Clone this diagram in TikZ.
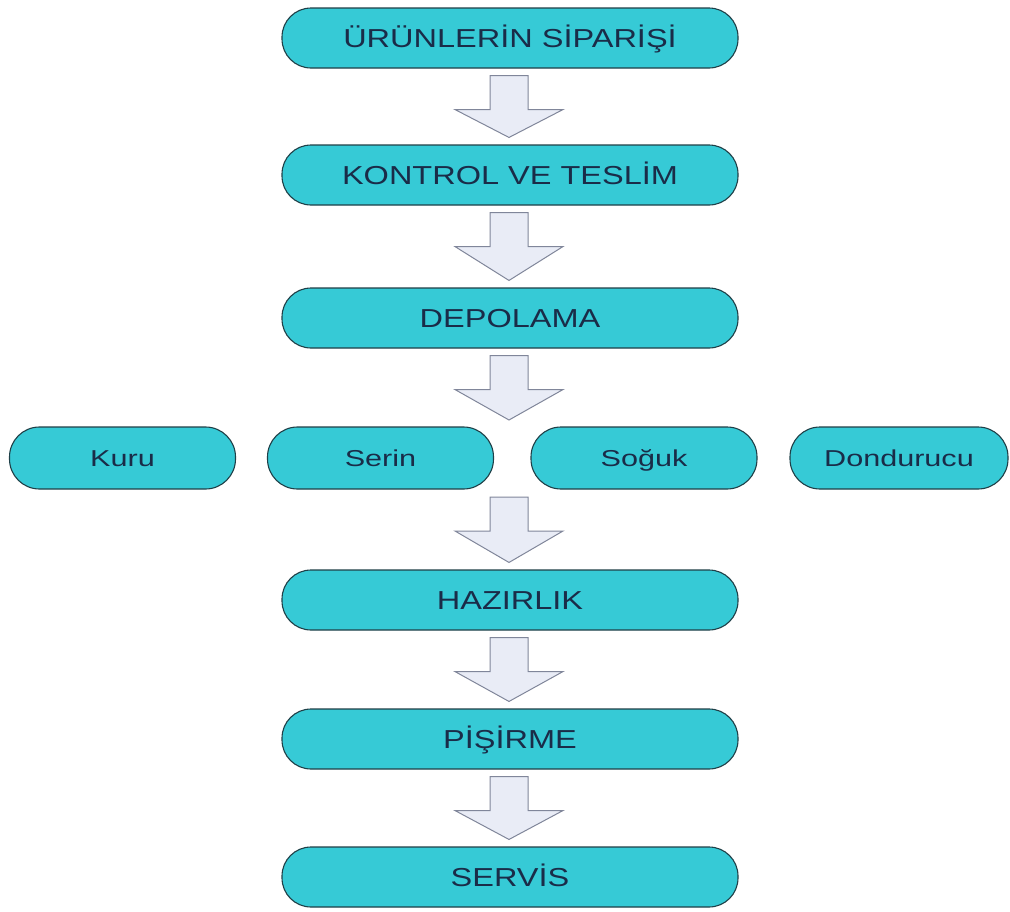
\documentclass[tikz,border=0pt]{standalone}
\usepackage{fontspec}
\setmainfont{Liberation Sans}
\newfontfamily\widefont[FakeStretch=1.25]{Liberation Sans}
\newfontfamily\widerfont[FakeStretch=1.33]{Liberation Sans}
\usetikzlibrary{calc}
\definecolor{boxfill}{HTML}{36CAD6}
\definecolor{boxline}{HTML}{1F3F47}
\definecolor{txt}{HTML}{1A2C48}
\definecolor{arfill}{HTML}{E9ECF6}
\definecolor{arline}{HTML}{80869A}
\tikzset{
  mainbox/.style={draw=boxline, fill=boxfill, line width=1.1pt, rounded corners=29pt,
    minimum width=456pt, minimum height=60pt, inner sep=0pt, text=txt,
    text height=18.6pt, text depth=0pt,
    font=\widefont\fontsize{26}{29}\selectfont},
  smallbox/.style={draw=boxline, fill=boxfill, line width=1.1pt, rounded corners=30pt,
    minimum width=226pt, minimum height=62pt, inner sep=0pt, text=txt,
    text height=16.5pt, text depth=0pt,
    font=\widerfont\fontsize{23}{26}\selectfont},
  blk/.style={draw=arline, fill=arfill, line width=1pt, line join=miter}
}
\newcommand\blkarrow[2]{%
  \draw[blk] let \p1=(#1), \p2=(#2) in
    (\x1-19pt,\y1-7pt) -- (\x1+19pt,\y1-7pt) -- (\x1+19pt,\y1-41pt) --
    (\x1+54pt,\y1-41pt) -- (\x1,\y2+7pt) -- (\x1-54pt,\y1-41pt) --
    (\x1-19pt,\y1-41pt) -- cycle;}
\begin{document}
\begin{tikzpicture}[x=1pt,y=1pt]
\useasboundingbox (0,0) rectangle (1010,-911);
\node[mainbox] (siparis) at (510,-38) {ÜRÜNLERİN SİPARİŞİ};
\node[mainbox] (kontrol) at (510,-175) {KONTROL VE TESLİM};
\node[mainbox] (depo) at (510,-318) {DEPOLAMA};
\node[smallbox] (kuru) at (122.5,-458) {Kuru};
\node[smallbox] (serin) at (380.5,-458) {Serin};
\node[smallbox] (soguk) at (644,-458) {Soğuk};
\node[smallbox, minimum width=218pt] (dond) at (899,-458) {Dondurucu};
\coordinate (rowtop) at (509,-427);
\coordinate (rowbot) at (509,-490);
\node[mainbox] (hazir) at (510,-600) {HAZIRLIK};
\node[mainbox] (pisir) at (510,-739) {PİŞİRME};
\node[mainbox] (servis) at (510,-877) {SERVİS};
\blkarrow{$(siparis.south)+(-1,0)$}{kontrol.north}
\blkarrow{$(kontrol.south)+(-1,0)$}{depo.north}
\blkarrow{$(depo.south)+(-1,0)$}{rowtop}
\blkarrow{rowbot}{hazir.north}
\blkarrow{$(hazir.south)+(-1,0)$}{pisir.north}
\blkarrow{$(pisir.south)+(-1,0)$}{servis.north}
\end{tikzpicture}
\end{document}
